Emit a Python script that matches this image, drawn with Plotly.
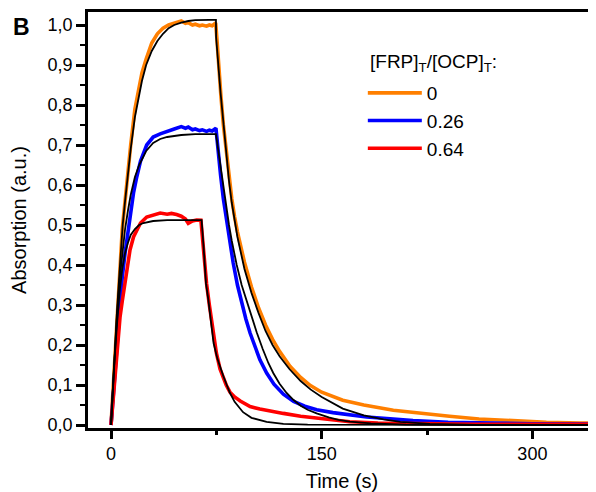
import plotly.graph_objects as go

# ---------------- data ----------------
series_names = ["0", "0.26", "0.64"]
series_colors = ["#FF7F00", "#0000FF", "#FF0000"]
legend_title = "[FRP]<sub>T</sub>/[OCP]<sub>T</sub>:"

# measured traces, ratio 0
t_data_0 = [0, 2, 4, 6, 8, 10, 12, 14, 17, 20, 22, 25, 29, 33, 37, 41, 45, 48, 50, 53, 55, 58, 60, 63, 65, 68, 70, 72, 74.5,
            75.3, 76, 78.3, 80, 82, 84, 86, 88, 90, 95, 100, 105, 110, 115, 120, 127.4, 135, 141.7, 150, 165, 180, 201,
            220, 241, 262, 285, 310, 334, 360]
a_data_0 = [0.0, 0.13, 0.26, 0.37, 0.49, 0.56, 0.635, 0.70, 0.79, 0.845, 0.88, 0.915, 0.955, 0.978, 0.992, 1.0, 1.005,
            1.008, 1.01, 1.004, 1.006, 1.0, 1.002, 0.998, 1.0, 0.997, 1.0, 0.998, 1.005,
            0.97, 0.93, 0.82, 0.75, 0.685, 0.62, 0.565, 0.52, 0.483, 0.407, 0.345, 0.293, 0.25, 0.214, 0.184, 0.147,
            0.119, 0.099, 0.082, 0.062, 0.05, 0.037, 0.029, 0.022, 0.015, 0.011, 0.007, 0.005, 0.004]

# measured traces, ratio 0.26
t_data_1 = [0, 2, 4, 6, 8, 10, 12, 14, 16, 18.3, 21, 25.4, 30, 35, 40, 45, 50, 53, 55, 58, 60, 63, 65, 68, 70, 72, 74.7,
            76, 78, 80, 82, 84, 87, 90, 93, 96, 99, 102, 106, 110.8, 116, 122.7, 130, 138, 146.4, 158, 170, 182, 194,
            215, 240, 262, 300, 360]
a_data_1 = [0.0, 0.1, 0.19, 0.29, 0.37, 0.43, 0.48, 0.53, 0.58, 0.62, 0.66, 0.70, 0.72, 0.728, 0.735, 0.74, 0.746, 0.742,
            0.745, 0.738, 0.74, 0.736, 0.738, 0.734, 0.737, 0.735, 0.742,
            0.69, 0.625, 0.565, 0.515, 0.47, 0.405, 0.35, 0.305, 0.265, 0.23, 0.199, 0.163, 0.13, 0.102, 0.077, 0.059,
            0.047, 0.038, 0.031, 0.025, 0.02, 0.017, 0.011, 0.007, 0.005, 0.003, 0.002]

# measured traces, ratio 0.64
t_data_2 = [0, 2, 4, 6.4, 8, 10, 12, 13.5, 16, 18.3, 21, 25.4, 30, 35, 40, 43, 46.7, 50, 53, 55, 58, 61, 64,
            65, 66, 68, 70, 72.8, 75, 77.6, 80, 82, 84.7, 88, 92, 99, 106, 114, 122.7, 135, 146.4, 160, 170, 190, 220,
            260, 360]
a_data_2 = [0.0, 0.09, 0.1875, 0.27, 0.31, 0.354, 0.405, 0.4375, 0.47, 0.4875, 0.505, 0.52, 0.525, 0.53, 0.527, 0.529,
            0.526, 0.522, 0.515, 0.504, 0.51, 0.5125, 0.512,
            0.47, 0.42, 0.354, 0.30, 0.23, 0.18, 0.14, 0.115, 0.1, 0.082, 0.07, 0.06, 0.046, 0.04, 0.034, 0.029, 0.022,
            0.017, 0.012, 0.008, 0.005, 0.003, 0.002, 0.002]

# model fits (black lines)
t_fit_0 = [0, 2, 4, 6, 8.3, 10, 12, 14, 17, 20, 22, 25, 29, 33, 37, 41, 45, 50, 55, 60, 65, 70, 74.7,
           74.8, 78, 80, 82, 84, 86, 88, 90, 95, 100, 105, 110, 115, 120, 127, 135, 142, 150, 165, 180, 194, 206,
           227, 260, 360]
a_fit_0 = [0.0, 0.14, 0.27, 0.38, 0.5, 0.56, 0.63, 0.69, 0.77, 0.83, 0.86, 0.9, 0.935, 0.96, 0.978, 0.992, 1.0, 1.006,
           1.01, 1.012, 1.013, 1.013, 1.013,
           0.97, 0.83, 0.75, 0.675, 0.61, 0.555, 0.51, 0.47, 0.39, 0.33, 0.28, 0.235, 0.2, 0.172, 0.14, 0.11, 0.089,
           0.07, 0.041, 0.024, 0.014, 0.008, 0.003, 0.0005, 0.0]

t_fit_1 = [0, 2, 4, 6, 8, 10, 12, 14, 17, 20, 25, 30, 35, 40, 50, 60, 74.7,
           77, 79, 81.5, 84, 86, 89.5, 93, 96.6, 100, 103.7, 108, 112, 115.5, 120, 125, 129.8, 135, 140, 146.4, 155,
           162, 170, 185, 210, 360]
a_fit_1 = [0.0, 0.14, 0.26, 0.36, 0.43, 0.49, 0.535, 0.575, 0.62, 0.65, 0.685, 0.705, 0.715, 0.72, 0.725, 0.727, 0.727,
           0.67, 0.62, 0.55, 0.50, 0.46, 0.40, 0.35, 0.31, 0.27, 0.232, 0.19, 0.155, 0.13, 0.103, 0.08, 0.063, 0.048,
           0.038, 0.029, 0.019, 0.013, 0.0085, 0.004, 0.001, 0.0]

t_fit_2 = [0, 2, 4, 6, 8, 10, 12, 14, 17, 20, 23, 30, 40, 64.5,
           66, 67.6, 69.3, 71.7, 73, 75.7, 78, 80, 82.4, 84.7, 88, 94, 100, 110.8, 122.7, 140, 360]
a_fit_2 = [0.0, 0.14, 0.24, 0.33, 0.39, 0.43, 0.455, 0.475, 0.49, 0.5, 0.505, 0.51, 0.512, 0.512,
           0.44, 0.354, 0.3125, 0.235, 0.205, 0.166, 0.14, 0.122, 0.1, 0.08, 0.058, 0.032, 0.018, 0.008, 0.003, 0.001, 0.0]

x_tick_vals = [0, 150, 300]
y_tick_vals = [0.0, 0.1, 0.2, 0.3, 0.4, 0.5, 0.6, 0.7, 0.8, 0.9, 1.0]

# ---------------- figure ----------------
FONT = "Liberation Sans, Arial, sans-serif"
fig = go.Figure()

data_sets = [(t_data_0, a_data_0), (t_data_1, a_data_1), (t_data_2, a_data_2)]
for (t, a), name, col in zip(data_sets, series_names, series_colors):
    fig.add_trace(go.Scatter(x=t, y=a, mode="lines", name=name,
                             line=dict(color=col, width=3.6)))

for t, a in [(t_fit_0, a_fit_0), (t_fit_1, a_fit_1), (t_fit_2, a_fit_2)]:
    fig.add_trace(go.Scatter(x=t, y=a, mode="lines", showlegend=False,
                             line=dict(color="black", width=1.8)))

# page body has an 8px margin, so the figure is 588x484 to fill the 596x492 window
fig.update_layout(
    width=588, height=484,
    margin=dict(l=80, r=0, t=4, b=64, autoexpand=False),
    paper_bgcolor="white", plot_bgcolor="white",
    separators=", ",
    font=dict(family=FONT, color="black", size=18),
    showlegend=True,
    legend=dict(
        x=0.541, y=0.851, xanchor="left", yanchor="top",
        bgcolor="rgba(0,0,0,0)", borderwidth=0,
        font=dict(size=19, family=FONT),
        itemwidth=54, tracegroupgap=0,
    ),
    xaxis=dict(
        range=[-16.4, 345.3], showgrid=False, zeroline=False, automargin=False,
        showline=True, linecolor="black", linewidth=2.5, mirror=True,
        ticks="outside", tickvals=x_tick_vals, ticklen=8, tickwidth=2.5, tickcolor="black",
        minor=dict(dtick=75, tick0=0, ticks="outside", ticklen=4, tickwidth=2.5, tickcolor="black"),
        tickfont=dict(size=18, family=FONT),
        title=dict(text="Time (s)", font=dict(size=20, family=FONT), standoff=12),
    ),
    yaxis=dict(
        range=[-0.0075, 1.0325], showgrid=False, zeroline=False, automargin=False,
        showline=True, linecolor="black", linewidth=2.5,
        ticks="outside", tickvals=y_tick_vals, tickformat=".1f", ticklen=9, tickwidth=2.5, tickcolor="black",
        minor=dict(dtick=0.05, tick0=0, ticks="outside", ticklen=5, tickwidth=2, tickcolor="black"),
        tickfont=dict(size=18, family=FONT),
        title=dict(text="Absorption (a.u.)", font=dict(size=20, family=FONT), standoff=20),
    ),
    annotations=[
        dict(text="<b>B</b>", xref="paper", yref="paper", x=-0.13, y=0.964,
             xanchor="center", yanchor="middle", showarrow=False,
             font=dict(size=23, family=FONT, color="black")),
        dict(text=legend_title, xref="paper", yref="paper", x=0.551, y=0.877,
             xanchor="left", yanchor="middle", showarrow=False,
             font=dict(size=19, family=FONT, color="black")),
    ],
)

fig.write_html("out.html")
